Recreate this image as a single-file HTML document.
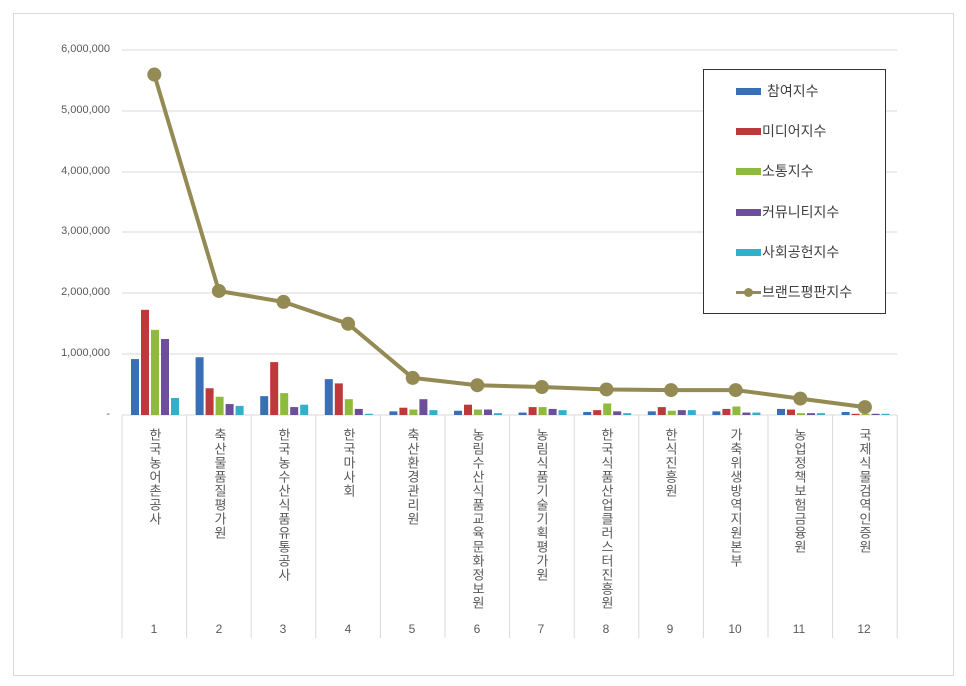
<!DOCTYPE html>
<html><head><meta charset="utf-8"><style>
body{margin:0;background:#fff;width:966px;height:686px;position:relative;overflow:hidden;font-family:"Liberation Sans","Noto Sans CJK KR",sans-serif}
.frame{position:absolute;left:13px;top:13px;width:939px;height:661px;border:1px solid #d9d9d9}
.yl{position:absolute;right:856px;font-size:11px;color:#595959;text-align:right}
.cl{position:absolute;top:428px;width:16px;margin-left:24px;font-size:13px;color:#595959;writing-mode:vertical-rl;text-orientation:upright;letter-spacing:1px;line-height:16px}
.cn{position:absolute;top:622px;width:64px;text-align:center;font-size:12px;color:#595959}
.leg{position:absolute;left:703px;top:69px;width:181px;height:243px;border:1px solid #333;background:#fff}
.li{position:absolute;left:58px;font-size:14px;color:#404040}
.sw{position:absolute;left:32px;width:25px;height:7px}
</style></head><body>
<div class="frame"></div>
<svg width="966" height="686" style="position:absolute;left:0;top:0" id="s"></svg>
<div class="yl" style="top:43px">6,000,000</div>
<div class="yl" style="top:104px">5,000,000</div>
<div class="yl" style="top:165px">4,000,000</div>
<div class="yl" style="top:225px">3,000,000</div>
<div class="yl" style="top:286px">2,000,000</div>
<div class="yl" style="top:347px">1,000,000</div>
<div class="yl" style="top:408px">-</div>
<div class="cl" style="left:122px">한국농어촌공사</div>
<div class="cl" style="left:187px">축산물품질평가원</div>
<div class="cl" style="left:251px">한국농수산식품유통공사</div>
<div class="cl" style="left:316px">한국마사회</div>
<div class="cl" style="left:380px">축산환경관리원</div>
<div class="cl" style="left:445px">농림수산식품교육문화정보원</div>
<div class="cl" style="left:509px">농림식품기술기획평가원</div>
<div class="cl" style="left:574px">한국식품산업클러스터진흥원</div>
<div class="cl" style="left:638px">한식진흥원</div>
<div class="cl" style="left:703px">가축위생방역지원본부</div>
<div class="cl" style="left:767px">농업정책보험금융원</div>
<div class="cl" style="left:832px">국제식물검역인증원</div>
<div class="cn" style="left:122px">1</div><div class="cn" style="left:187px">2</div><div class="cn" style="left:251px">3</div><div class="cn" style="left:316px">4</div><div class="cn" style="left:380px">5</div><div class="cn" style="left:445px">6</div><div class="cn" style="left:509px">7</div><div class="cn" style="left:574px">8</div><div class="cn" style="left:638px">9</div><div class="cn" style="left:703px">10</div><div class="cn" style="left:767px">11</div><div class="cn" style="left:832px">12</div>
<div class="leg">
<div class="sw" style="top:18px;background:#3a6fb8"></div><div class="li" style="top:11px;left:63px">참여지수</div>
<div class="sw" style="top:58px;background:#c0393a"></div><div class="li" style="top:51px">미디어지수</div>
<div class="sw" style="top:98px;background:#8fbb3c"></div><div class="li" style="top:91px">소통지수</div>
<div class="sw" style="top:139px;background:#6d4e9b"></div><div class="li" style="top:132px">커뮤니티지수</div>
<div class="sw" style="top:179px;background:#33aecb"></div><div class="li" style="top:172px">사회공헌지수</div>
<div style="position:absolute;left:32px;top:221px;width:25px;height:3px;background:#948a54"></div><div style="position:absolute;left:40px;top:218px;width:9px;height:9px;border-radius:50%;background:#948a54"></div><div class="li" style="top:212px">브랜드평판지수</div>
</div>
<script>
var s=document.getElementById('s'),h='';
var ys=[50,111,172,232,293,354];
ys.forEach(function(y){h+='<line x1="122" x2="897" y1="'+y+'" y2="'+y+'" stroke="#d9d9d9"/>';});
h+='<line x1="122" x2="897" y1="415" y2="415" stroke="#d9d9d9"/>';
for(var i=0;i<=12;i++){var x=122+i*64.6;h+='<line x1="'+x+'" x2="'+x+'" y1="415" y2="638" stroke="#d9d9d9"/>';}
var d=[[.92,1.73,1.4,1.25,.28],[.95,.44,.3,.18,.15],[.31,.87,.36,.13,.17],[.59,.52,.26,.1,.02],[.06,.12,.09,.26,.08],[.07,.17,.09,.09,.03],[.04,.13,.13,.1,.08],[.05,.08,.19,.06,.03],[.06,.13,.07,.08,.08],[.06,.1,.14,.04,.04],[.1,.09,.03,.03,.03],[.05,.02,.02,.02,.02]];
var c=['#3a6fb8','#c0393a','#8fbb3c','#6d4e9b','#33aecb'];
var L=[5.6,2.04,1.86,1.5,.61,.49,.46,.42,.41,.41,.27,.13],k=60.8,pts=[];
for(i=0;i<12;i++){var x0=122+i*64.6;for(var j=0;j<5;j++){var v=d[i][j]*k;h+='<rect x="'+(x0+9+j*10)+'" y="'+(415-v)+'" width="8" height="'+v+'" fill="'+c[j]+'"/>';}
pts.push((x0+32.3)+','+(415-L[i]*k));}
h+='<polyline points="'+pts.join(' ')+'" fill="none" stroke="#948a54" stroke-width="4" stroke-linejoin="round"/>';
pts.forEach(function(p){var a=p.split(',');h+='<circle cx="'+a[0]+'" cy="'+a[1]+'" r="7" fill="#948a54"/>';});
s.innerHTML=h;
</script>
</body></html>
